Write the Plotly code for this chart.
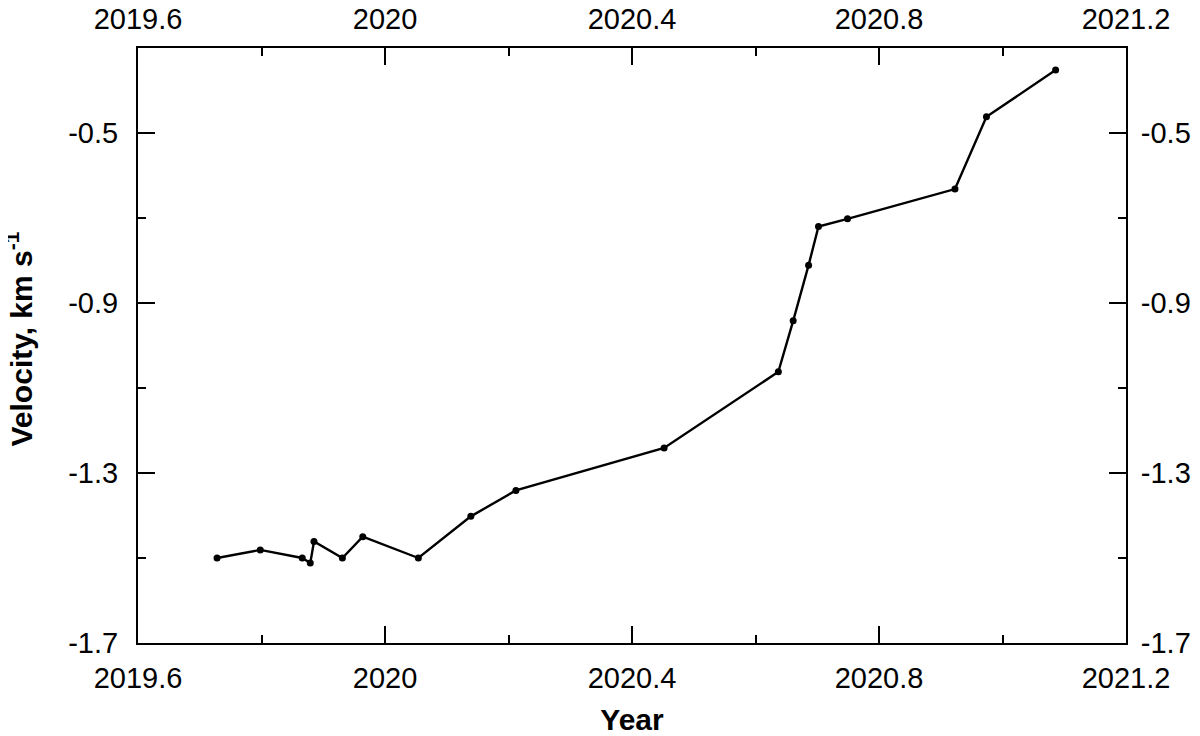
import plotly.graph_objects as go

# decimal year vs velocity (km/s)
years = [2019.728, 2019.798, 2019.866, 2019.879, 2019.885, 2019.931, 2019.964,
         2020.054, 2020.139, 2020.212, 2020.452, 2020.637, 2020.661, 2020.686,
         2020.702, 2020.749, 2020.923, 2020.974, 2021.086]
velocity = [-1.50, -1.481, -1.50, -1.512, -1.461, -1.50, -1.45,
            -1.50, -1.402, -1.341, -1.241, -1.062, -0.942, -0.811,
            -0.720, -0.702, -0.632, -0.462, -0.352]

x_tick_vals = [2019.6, 2020.0, 2020.4, 2020.8, 2021.2]
x_tick_text = ["2019.6", "2020", "2020.4", "2020.8", "2021.2"]
y_tick_vals = [-1.7, -1.3, -0.9, -0.5]
y_tick_text = ["-1.7", "-1.3", "-0.9", "-0.5"]

FONT = "Arial, Liberation Sans, sans-serif"

fig = go.Figure()

fig.add_trace(go.Scatter(
    x=years, y=velocity,
    mode="lines+markers",
    line=dict(color="black", width=2.4),
    marker=dict(color="black", size=7),
    showlegend=False,
))

# invisible copy so the top / right axes get drawn
fig.add_trace(go.Scatter(
    x=years, y=velocity, xaxis="x2", yaxis="y2",
    mode="lines", opacity=0, hoverinfo="skip", showlegend=False,
))

x_common = dict(
    range=[2019.6, 2021.2],
    tickvals=x_tick_vals, ticktext=x_tick_text,
    ticks="inside", ticklen=17, tickwidth=2, tickcolor="black",
    minor=dict(dtick=0.2, tick0=2019.6, ticks="inside", ticklen=8,
               tickwidth=2, tickcolor="black"),
    showline=True, linecolor="black", linewidth=2,
    showgrid=False, zeroline=False, automargin=False,
    tickfont=dict(family=FONT, size=29, color="black"),
)
y_common = dict(
    range=[-1.7, -0.3],
    tickvals=y_tick_vals, ticktext=y_tick_text,
    ticks="inside", ticklen=17, tickwidth=2, tickcolor="black",
    minor=dict(dtick=0.2, tick0=-1.7, ticks="inside", ticklen=8,
               tickwidth=2, tickcolor="black"),
    showline=True, linecolor="black", linewidth=2,
    showgrid=False, zeroline=False, automargin=False,
    tickfont=dict(family=FONT, size=29, color="black"),
)

# page body has an 8px margin, so the figure is drawn 8px in from the corner
fig.update_layout(
    width=1192, height=728,
    margin=dict(l=130, r=74, t=40, b=93),
    paper_bgcolor="white", plot_bgcolor="white",
    font=dict(family=FONT, color="black"),
    xaxis=dict(**x_common, side="bottom", ticklabelstandoff=8,
               title=dict(text="<b>Year</b>", font=dict(size=30), standoff=21)),
    xaxis2=dict(**x_common, side="top", overlaying="x", ticklabelstandoff=5),
    yaxis=dict(**y_common, side="left", ticklabelstandoff=12),
    yaxis2=dict(**y_common, side="right", overlaying="y", ticklabelstandoff=7),
)

# y title as an annotation so it can sit further left than the axis title allows
fig.add_annotation(
    text="<b>Velocity, km s<sup>-1</sup></b>",
    xref="paper", yref="paper", x=0, y=0.5,
    xanchor="center", yanchor="middle", textangle=-90,
    xshift=-119, yshift=6, showarrow=False,
    font=dict(family=FONT, size=30, color="black"),
)

fig.write_html("out.html")
